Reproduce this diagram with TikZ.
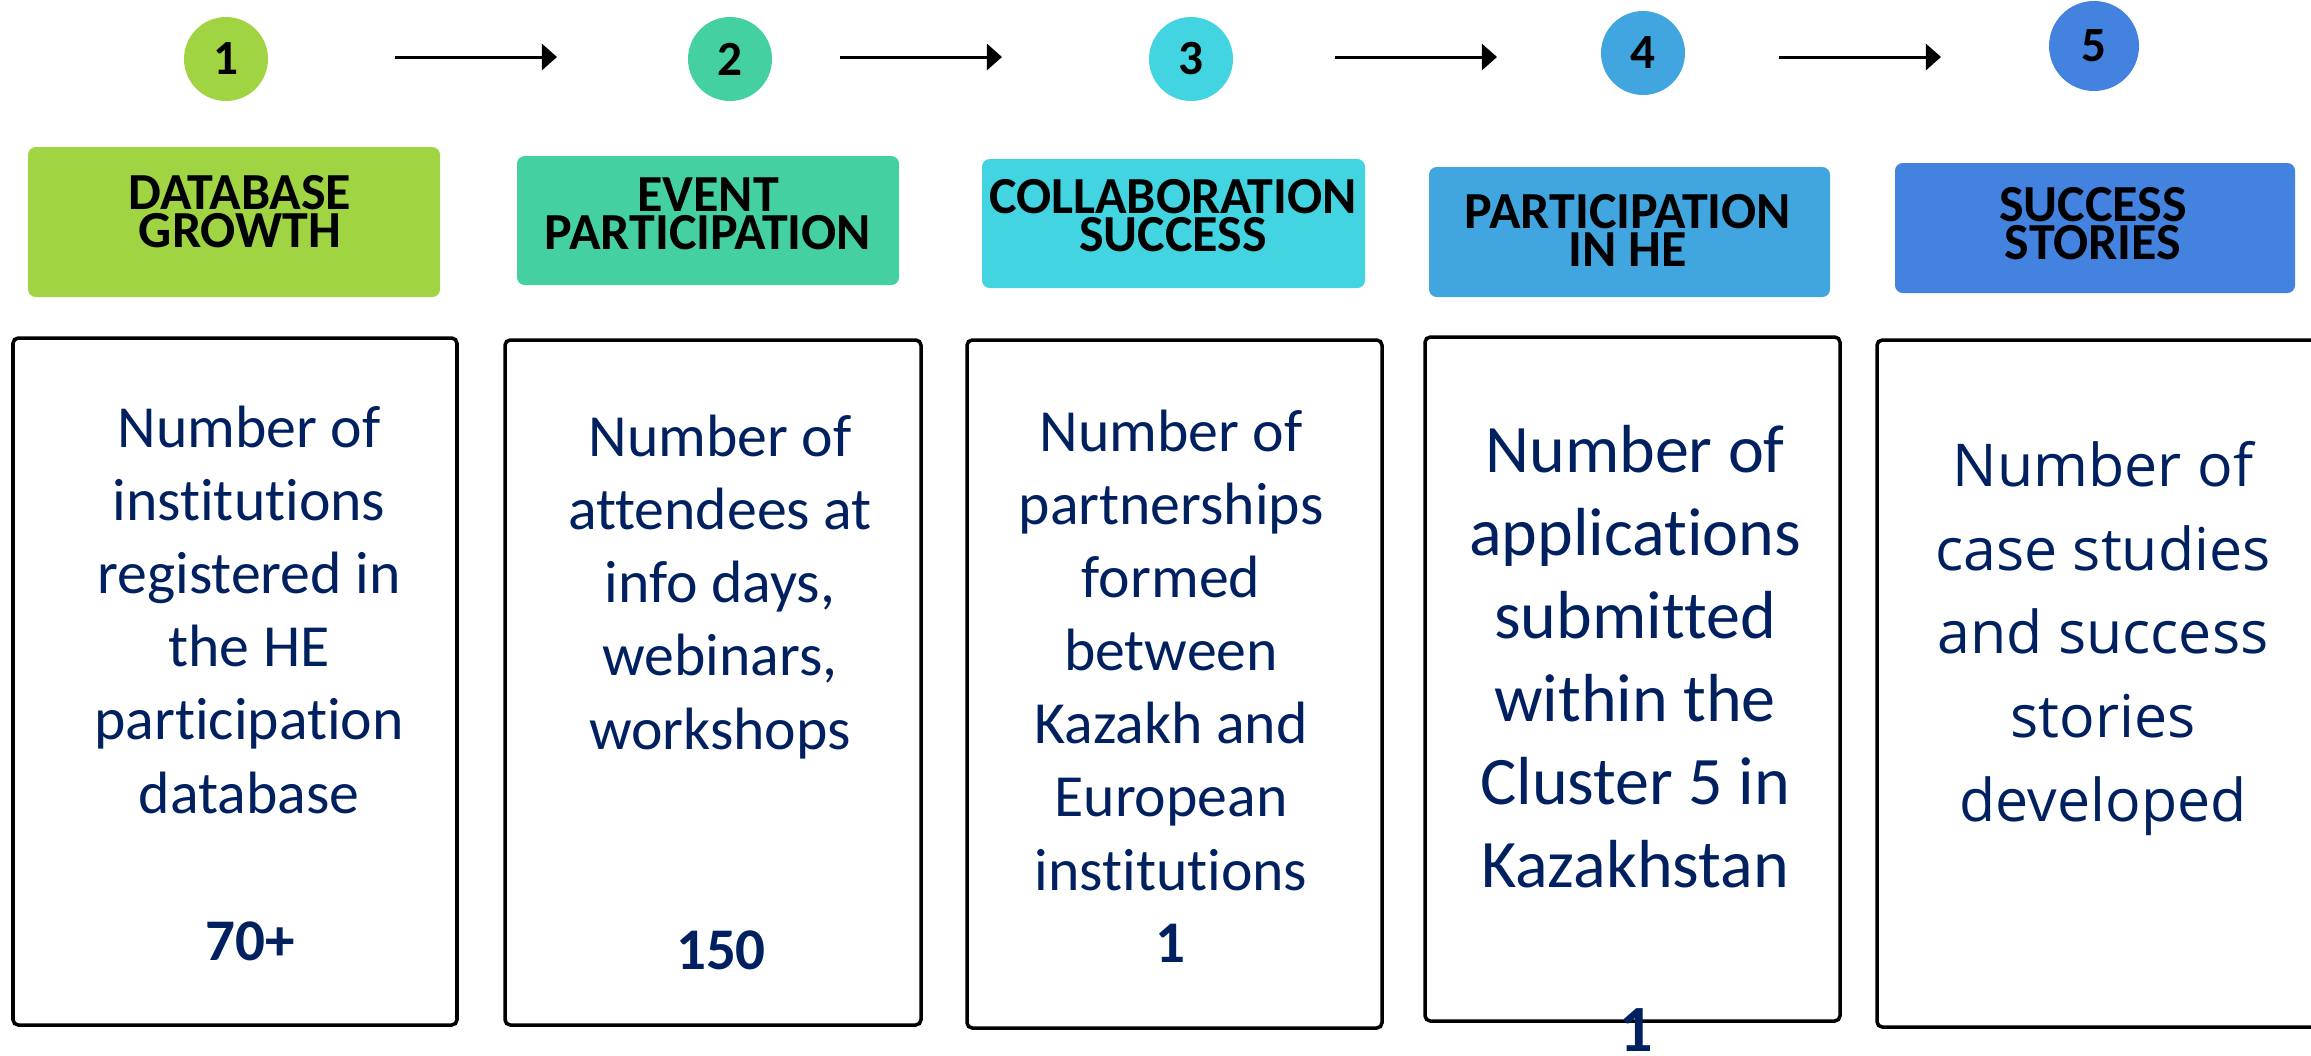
\documentclass[tikz,border=0pt]{standalone}
\usepackage{fontspec}
\setmainfont{Carlito}[Ligatures = NoCommon]
\newfontfamily\storyfont{Open Sans}
\usepackage{xcolor}
\usetikzlibrary{arrows.meta}

\definecolor{stepA}{HTML}{A0D443}
\definecolor{stepB}{HTML}{44D0A0}
\definecolor{stepC}{HTML}{42D4E0}
\definecolor{stepD}{HTML}{41A6E0}
\definecolor{stepE}{HTML}{4382DE}
\definecolor{navy}{HTML}{002060}

\tikzset{
	num/.style = {circle, inner sep = 0pt, minimum size = 8.4mm, font = \bfseries\fontsize{14}{14}\selectfont},
	head/.style = {rounded corners = 2.2pt, inner sep = 0pt},
	headtext/.style = {anchor = base, align = center, inner sep = 0pt, font = \bfseries\fontsize{14.8}{10.8}\selectfont},
	card/.style = {draw = black, line width = 1pt, rounded corners = 1.5pt, inner sep = 0pt},
	cardtext/.style = {anchor = base, align = center, inner sep = 0pt, text = navy, font = \fontsize{17}{20.8}\selectfont},
	value/.style = {anchor = base, inner sep = 0pt, text = navy, font = \bfseries\fontsize{16.8}{16.8}\selectfont},
	flow/.style = {line width = 0.85pt, -{Triangle[length = 4.3pt, width = 7.4pt]}}
}

\begin{document}
\begin{tikzpicture}[x = 0.1mm, y = -0.1mm]
	\clip (0,0) rectangle (2311,1055);
	
	% numbered steps
	\node [num, fill = stepA] (c1) at (226,59) {1};
	\node [num, fill = stepB] (c2) at (730,59) {2};
	\node [num, fill = stepC] (c3) at (1191,59) {3};
	\node [num, fill = stepD] (c4) at (1643,53) {4};
	\node [num, fill = stepE, minimum size = 9mm] (c5) at (2094,46) {5};
	
	\foreach \i/\xa/\xb in {1/395/557, 2/840/1002, 3/1335/1497, 4/1779/1941} {
		\coordinate (as\i) at (\xa,57);
		\coordinate (ae\i) at (\xb,57);
		\draw [flow] (as\i) -- (ae\i);
	}
	
	% headings (base = last line)
	\node [head, fill = stepA, minimum width = 41.2mm, minimum height = 15mm] (h1) at (234,222) {};
	\node [head, fill = stepB, minimum width = 38.2mm, minimum height = 12.9mm] (h2) at (708,220.5) {};
	\node [head, fill = stepC, minimum width = 38.3mm, minimum height = 12.9mm] (h3) at (1173.5,223.5) {};
	\node [head, fill = stepD, minimum width = 40.1mm, minimum height = 13mm] (h4) at (1629.5,232) {};
	\node [head, fill = stepE, minimum width = 40mm, minimum height = 13mm] (h5) at (2095,228) {};
	
	\node [headtext] (ht1) at (240,247) {DATABASE\\GROWTH};
	\node [headtext] (ht2) at (708,249) {EVENT\\PARTICIPATION};
	\node [headtext] (ht3) at (1173,251) {COLLABORATION\\SUCCESS};
	\node [headtext] (ht4) at (1628,266) {PARTICIPATION\\IN HE};
	\node [headtext] (ht5) at (2093,259) {SUCCESS\\STORIES};
	
	% indicator cards
	\node [card, minimum width = 44.4mm, minimum height = 68.7mm] (b1) at (235,681.5) {};
	\node [card, minimum width = 41.6mm, minimum height = 68.5mm] (b2) at (713,682.5) {};
	\node [card, minimum width = 41.5mm, minimum height = 68.8mm] (b3) at (1174.5,684) {};
	\node [card, minimum width = 41.5mm, minimum height = 68.4mm] (b4) at (1632.5,679) {};
	\node [card, minimum width = 45.2mm, minimum height = 68.7mm] (b5) at (2103,683.5) {};
	
	\node [cardtext] (t1) at (249,813) {Number of\\institutions\\registered in\\the HE\\participation\\database};
	\node [cardtext] (t2) at (720,749) {Number of\\attendees at\\info days,\\webinars,\\workshops};
	\node [cardtext] (t3) at (1171,890) {Number of\\partnerships\\formed\\between\\Kazakh and\\European\\institutions};
	\node [cardtext, font = \fontsize{19.35}{23.6}\selectfont] (t4) at (1635,887) {Number of\\applications\\submitted\\within the\\Cluster 5 in\\Kazakhstan};
	\node [cardtext, font = \storyfont\fontsize{16.8}{23.8}\selectfont] (t5) at (2103,821) {Number of\\case studies\\and success\\stories\\developed};
	
	\node [value] (v1) at (250,960) {70+};
	\node [value] (v2) at (721,969) {150};
	\node [value] (v3) at (1170,962) {1};
	\node [value, font = \bfseries\fontsize{18.8}{18.8}\selectfont] (v4) at (1636,1051) {1};
\end{tikzpicture}
\end{document}
